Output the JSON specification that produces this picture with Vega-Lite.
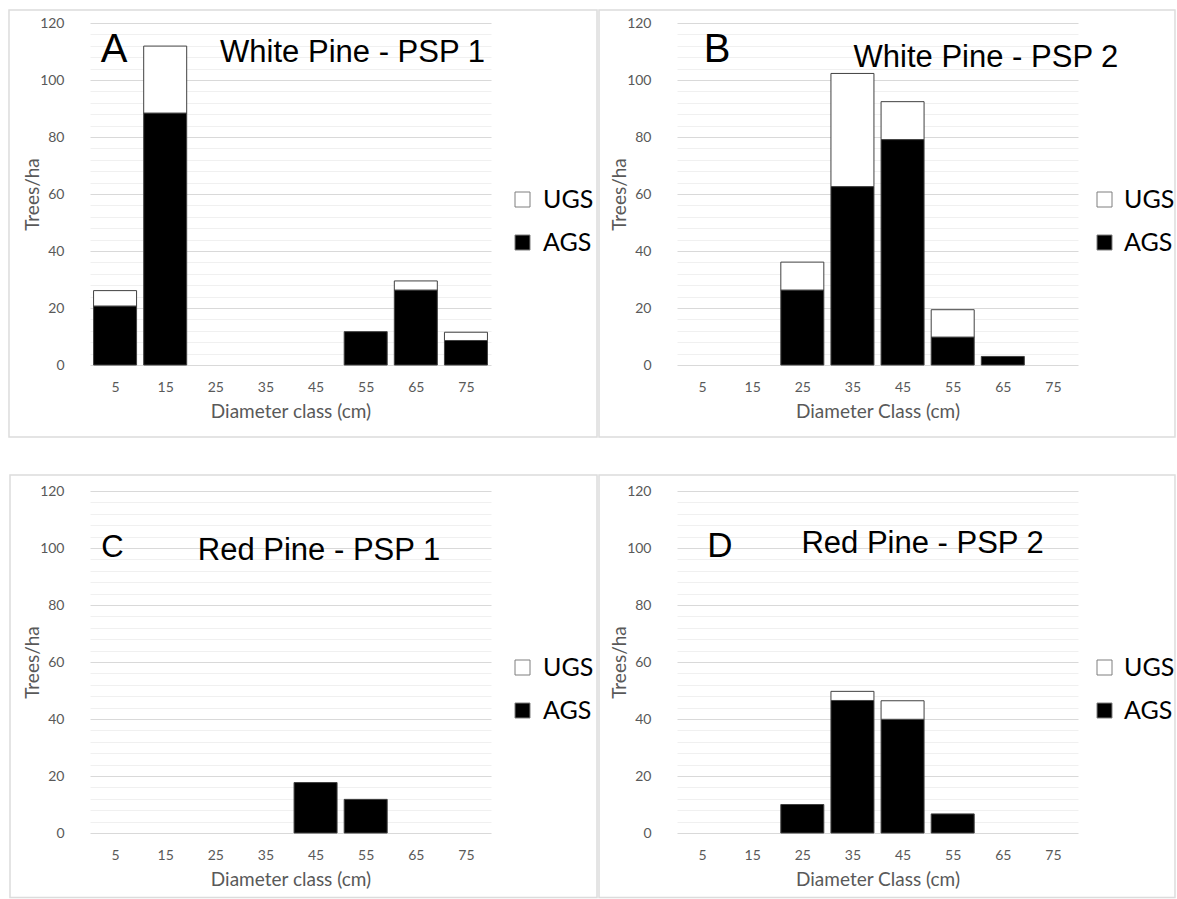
{
  "$schema": "https://vega.github.io/schema/vega-lite/v6.json",
  "background": "white",
  "padding": {"left": 8, "top": 9, "right": 0, "bottom": 0},
  "bounds": "flush",
  "columns": 2,
  "spacing": {"column": 186, "row": 126},
  "config": {
    "view": {"stroke": null},
    "axis": {"labelFont": "Lato", "labelFontSize": 14, "labelColor": "#595959", "titleFont": "Lato", "titleFontSize": 19, "titleFontWeight": "normal", "titleColor": "#595959", "domain": false, "ticks": false},
    "axisY": {"labelOverlap": false, "grid": true, "labelPadding": 26, "titlePadding": -3, "tickCount": 40},
    "axisX": {"grid": false, "labelPadding": 15, "titlePadding": 8, "labelOverlap": false},
    "legend": {"symbolType": "square", "symbolSize": 225, "symbolStrokeColor": "#7f7f7f", "symbolStrokeWidth": 1, "labelFont": "Lato", "labelFontSize": 25, "labelColor": "#000000", "labelOffset": 8, "rowPadding": 17, "padding": 0}
  },
  "resolve": {"scale": {"color": "independent", "x": "independent", "y": "independent"}, "legend": {"color": "independent"}},
  "datasets": {
    "trees": [
      {"panel": "A", "diameter": 5, "grade": "AGS", "trees": 20.7},
      {"panel": "A", "diameter": 5, "grade": "UGS", "trees": 5.4},
      {"panel": "A", "diameter": 15, "grade": "AGS", "trees": 88.4},
      {"panel": "A", "diameter": 15, "grade": "UGS", "trees": 23.5},
      {"panel": "A", "diameter": 55, "grade": "AGS", "trees": 11.7},
      {"panel": "A", "diameter": 65, "grade": "AGS", "trees": 26.3},
      {"panel": "A", "diameter": 65, "grade": "UGS", "trees": 3.2},
      {"panel": "A", "diameter": 75, "grade": "AGS", "trees": 8.6},
      {"panel": "A", "diameter": 75, "grade": "UGS", "trees": 2.9},
      {"panel": "B", "diameter": 25, "grade": "AGS", "trees": 26.3},
      {"panel": "B", "diameter": 25, "grade": "UGS", "trees": 9.8},
      {"panel": "B", "diameter": 35, "grade": "AGS", "trees": 62.6},
      {"panel": "B", "diameter": 35, "grade": "UGS", "trees": 39.7},
      {"panel": "B", "diameter": 45, "grade": "AGS", "trees": 79.1},
      {"panel": "B", "diameter": 45, "grade": "UGS", "trees": 13.3},
      {"panel": "B", "diameter": 55, "grade": "AGS", "trees": 9.8},
      {"panel": "B", "diameter": 55, "grade": "UGS", "trees": 9.6},
      {"panel": "B", "diameter": 65, "grade": "AGS", "trees": 3.0},
      {"panel": "C", "diameter": 45, "grade": "AGS", "trees": 17.7},
      {"panel": "C", "diameter": 55, "grade": "AGS", "trees": 11.8},
      {"panel": "D", "diameter": 25, "grade": "AGS", "trees": 10.0},
      {"panel": "D", "diameter": 35, "grade": "AGS", "trees": 46.5},
      {"panel": "D", "diameter": 35, "grade": "UGS", "trees": 3.2},
      {"panel": "D", "diameter": 45, "grade": "AGS", "trees": 39.9},
      {"panel": "D", "diameter": 45, "grade": "UGS", "trees": 6.5},
      {"panel": "D", "diameter": 55, "grade": "AGS", "trees": 6.7}
    ],
    "panels": [
      {"panel": "A", "letter": "A", "title": "White Pine - PSP 1"},
      {"panel": "B", "letter": "B", "title": "White Pine - PSP 2"},
      {"panel": "C", "letter": "C", "title": "Red Pine - PSP 1"},
      {"panel": "D", "letter": "D", "title": "Red Pine - PSP 2"}
    ]
  },
  "concat": [
    {
      "width": 401, "height": 342,
      "layer": [
        {
          "data": {"name": "trees"},
          "transform": [{"filter": "datum.panel === 'A'"}],
          "mark": {"type": "bar", "size": 43, "stroke": "#404040", "strokeWidth": 1},
          "encoding": {
            "x": {"field": "diameter", "type": "quantitative", "scale": {"domain": [0, 80], "nice": false, "zero": false, "padding": 0}, "axis": {"title": "Diameter class (cm)", "values": [5, 15, 25, 35, 45, 55, 65, 75]}},
            "y": {"field": "trees", "type": "quantitative", "stack": "zero", "scale": {"domain": [0, 120], "nice": false}, "axis": {"title": "Trees/ha", "tickCount": 40, "values": [0,4,8,12,16,20,24,28,32,36,40,44,48,52,56,60,64,68,72,76,80,84,88,92,96,100,104,108,112,116,120], "labelExpr": "datum.value % 20 === 0 ? datum.label : ''", "gridColor": {"condition": {"test": "datum.value % 20 === 0", "value": "#d9d9d9"}, "value": "#f0f0f0"}}},
            "color": {"field": "grade", "type": "nominal", "scale": {"domain": ["UGS", "AGS"], "range": ["#ffffff", "#000000"]}, "legend": {"title": null, "orient": "none", "legendX": 420, "legendY": 164}},
            "order": {"field": "grade", "sort": "ascending"}
          }
        },
        {
          "data": {"name": "panels"},
          "transform": [{"filter": "datum.panel === 'A'"}],
          "mark": {"type": "rect", "fill": "transparent", "stroke": "#dcdcdc", "strokeWidth": 1.5},
          "encoding": {"x": {"datum": -16.16, "type": "quantitative"}, "x2": {"datum": 101.15}, "y": {"datum": 124.56, "type": "quantitative"}, "y2": {"datum": -25.26}}
        },
        {
          "data": {"name": "panels"},
          "transform": [{"filter": "datum.panel === 'A'"}],
          "mark": {"type": "text", "font": "Liberation Sans", "fontSize": 40, "align": "center", "baseline": "alphabetic", "color": "#000000"},
          "encoding": {"x": {"datum": 4.79, "type": "quantitative"}, "y": {"datum": 106.3, "type": "quantitative"}, "text": {"field": "letter"}}
        },
        {
          "data": {"name": "panels"},
          "transform": [{"filter": "datum.panel === 'A'"}],
          "mark": {"type": "text", "font": "Liberation Sans", "fontSize": 31, "align": "center", "baseline": "alphabetic", "color": "#000000"},
          "encoding": {"x": {"datum": 52.37, "type": "quantitative"}, "y": {"datum": 106.3, "type": "quantitative"}, "text": {"field": "title"}}
        }
      ]
    },
    {
      "width": 401, "height": 342,
      "layer": [
        {
          "data": {"name": "trees"},
          "transform": [{"filter": "datum.panel === 'B'"}],
          "mark": {"type": "bar", "size": 43, "stroke": "#404040", "strokeWidth": 1},
          "encoding": {
            "x": {"field": "diameter", "type": "quantitative", "scale": {"domain": [0, 80], "nice": false, "zero": false, "padding": 0}, "axis": {"title": "Diameter Class (cm)", "values": [5, 15, 25, 35, 45, 55, 65, 75]}},
            "y": {"field": "trees", "type": "quantitative", "stack": "zero", "scale": {"domain": [0, 120], "nice": false}, "axis": {"title": "Trees/ha", "tickCount": 40, "values": [0,4,8,12,16,20,24,28,32,36,40,44,48,52,56,60,64,68,72,76,80,84,88,92,96,100,104,108,112,116,120], "labelExpr": "datum.value % 20 === 0 ? datum.label : ''", "gridColor": {"condition": {"test": "datum.value % 20 === 0", "value": "#d9d9d9"}, "value": "#f0f0f0"}}},
            "color": {"field": "grade", "type": "nominal", "scale": {"domain": ["UGS", "AGS"], "range": ["#ffffff", "#000000"]}, "legend": {"title": null, "orient": "none", "legendX": 415, "legendY": 164, "labelOffset": 7}},
            "order": {"field": "grade", "sort": "ascending"}
          }
        },
        {
          "data": {"name": "panels"},
          "transform": [{"filter": "datum.panel === 'B'"}],
          "mark": {"type": "rect", "fill": "transparent", "stroke": "#dcdcdc", "strokeWidth": 1.5},
          "encoding": {"x": {"datum": -15.56, "type": "quantitative"}, "x2": {"datum": 99.35}, "y": {"datum": 124.56, "type": "quantitative"}, "y2": {"datum": -25.26}}
        },
        {
          "data": {"name": "panels"},
          "transform": [{"filter": "datum.panel === 'B'"}],
          "mark": {"type": "text", "font": "Liberation Sans", "fontSize": 40, "align": "center", "baseline": "alphabetic", "color": "#000000"},
          "encoding": {"x": {"datum": 7.98, "type": "quantitative"}, "y": {"datum": 106.3, "type": "quantitative"}, "text": {"field": "letter"}}
        },
        {
          "data": {"name": "panels"},
          "transform": [{"filter": "datum.panel === 'B'"}],
          "mark": {"type": "text", "font": "Liberation Sans", "fontSize": 31, "align": "center", "baseline": "alphabetic", "color": "#000000"},
          "encoding": {"x": {"datum": 61.64, "type": "quantitative"}, "y": {"datum": 104.7, "type": "quantitative"}, "text": {"field": "title"}}
        }
      ]
    },
    {
      "width": 401, "height": 342,
      "layer": [
        {
          "data": {"name": "trees"},
          "transform": [{"filter": "datum.panel === 'C'"}],
          "mark": {"type": "bar", "size": 43, "stroke": "#404040", "strokeWidth": 1},
          "encoding": {
            "x": {"field": "diameter", "type": "quantitative", "scale": {"domain": [0, 80], "nice": false, "zero": false, "padding": 0}, "axis": {"title": "Diameter class (cm)", "values": [5, 15, 25, 35, 45, 55, 65, 75]}},
            "y": {"field": "trees", "type": "quantitative", "stack": "zero", "scale": {"domain": [0, 120], "nice": false}, "axis": {"title": "Trees/ha", "tickCount": 40, "values": [0,4,8,12,16,20,24,28,32,36,40,44,48,52,56,60,64,68,72,76,80,84,88,92,96,100,104,108,112,116,120], "labelExpr": "datum.value % 20 === 0 ? datum.label : ''", "gridColor": {"condition": {"test": "datum.value % 20 === 0", "value": "#d9d9d9"}, "value": "#f0f0f0"}}},
            "color": {"field": "grade", "type": "nominal", "scale": {"domain": ["UGS", "AGS"], "range": ["#ffffff", "#000000"]}, "legend": {"title": null, "orient": "none", "legendX": 420, "legendY": 164}},
            "order": {"field": "grade", "sort": "ascending"}
          }
        },
        {
          "data": {"name": "panels"},
          "transform": [{"filter": "datum.panel === 'C'"}],
          "mark": {"type": "rect", "fill": "transparent", "stroke": "#dcdcdc", "strokeWidth": 1.5},
          "encoding": {"x": {"datum": -15.96, "type": "quantitative"}, "x2": {"datum": 101.15}, "y": {"datum": 125.6, "type": "quantitative"}, "y2": {"datum": -22.6}}
        },
        {
          "data": {"name": "panels"},
          "transform": [{"filter": "datum.panel === 'C'"}],
          "mark": {"type": "text", "font": "Liberation Sans", "fontSize": 31, "align": "center", "baseline": "alphabetic", "color": "#000000"},
          "encoding": {"x": {"datum": 4.49, "type": "quantitative"}, "y": {"datum": 96.8, "type": "quantitative"}, "text": {"field": "letter"}}
        },
        {
          "data": {"name": "panels"},
          "transform": [{"filter": "datum.panel === 'C'"}],
          "mark": {"type": "text", "font": "Liberation Sans", "fontSize": 31, "align": "center", "baseline": "alphabetic", "color": "#000000"},
          "encoding": {"x": {"datum": 45.69, "type": "quantitative"}, "y": {"datum": 95.8, "type": "quantitative"}, "text": {"field": "title"}}
        }
      ]
    },
    {
      "width": 401, "height": 342,
      "layer": [
        {
          "data": {"name": "trees"},
          "transform": [{"filter": "datum.panel === 'D'"}],
          "mark": {"type": "bar", "size": 43, "stroke": "#404040", "strokeWidth": 1},
          "encoding": {
            "x": {"field": "diameter", "type": "quantitative", "scale": {"domain": [0, 80], "nice": false, "zero": false, "padding": 0}, "axis": {"title": "Diameter Class (cm)", "values": [5, 15, 25, 35, 45, 55, 65, 75]}},
            "y": {"field": "trees", "type": "quantitative", "stack": "zero", "scale": {"domain": [0, 120], "nice": false}, "axis": {"title": "Trees/ha", "tickCount": 40, "values": [0,4,8,12,16,20,24,28,32,36,40,44,48,52,56,60,64,68,72,76,80,84,88,92,96,100,104,108,112,116,120], "labelExpr": "datum.value % 20 === 0 ? datum.label : ''", "gridColor": {"condition": {"test": "datum.value % 20 === 0", "value": "#d9d9d9"}, "value": "#f0f0f0"}}},
            "color": {"field": "grade", "type": "nominal", "scale": {"domain": ["UGS", "AGS"], "range": ["#ffffff", "#000000"]}, "legend": {"title": null, "orient": "none", "legendX": 415, "legendY": 164, "labelOffset": 7}},
            "order": {"field": "grade", "sort": "ascending"}
          }
        },
        {
          "data": {"name": "panels"},
          "transform": [{"filter": "datum.panel === 'D'"}],
          "mark": {"type": "rect", "fill": "transparent", "stroke": "#dcdcdc", "strokeWidth": 1.5},
          "encoding": {"x": {"datum": -15.56, "type": "quantitative"}, "x2": {"datum": 99.35}, "y": {"datum": 125.6, "type": "quantitative"}, "y2": {"datum": -22.6}}
        },
        {
          "data": {"name": "panels"},
          "transform": [{"filter": "datum.panel === 'D'"}],
          "mark": {"type": "text", "font": "Liberation Sans", "fontSize": 35, "align": "center", "baseline": "alphabetic", "color": "#000000"},
          "encoding": {"x": {"datum": 8.58, "type": "quantitative"}, "y": {"datum": 96.8, "type": "quantitative"}, "text": {"field": "letter"}}
        },
        {
          "data": {"name": "panels"},
          "transform": [{"filter": "datum.panel === 'D'"}],
          "mark": {"type": "text", "font": "Liberation Sans", "fontSize": 31, "align": "center", "baseline": "alphabetic", "color": "#000000"},
          "encoding": {"x": {"datum": 49.0, "type": "quantitative"}, "y": {"datum": 98.2, "type": "quantitative"}, "text": {"field": "title"}}
        }
      ]
    }
  ]
}
